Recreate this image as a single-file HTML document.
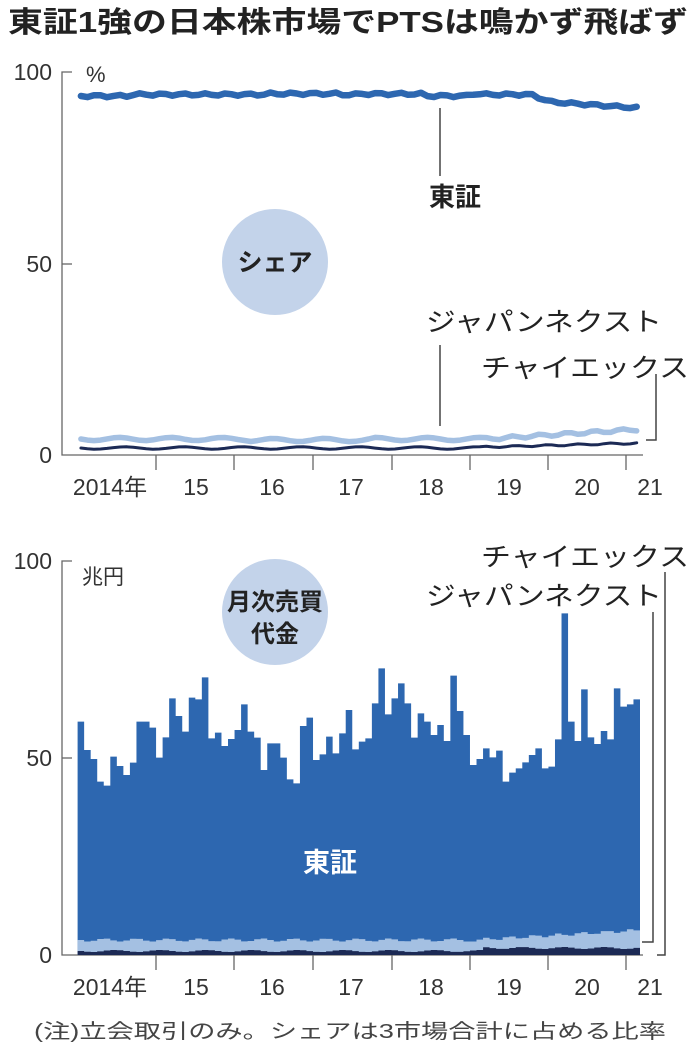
<!DOCTYPE html><html><head><meta charset="utf-8"><style>
html,body{margin:0;padding:0;background:#fff;}
svg{display:block;font-family:"Liberation Sans","Noto Sans CJK JP",sans-serif;}
</style></head><body>
<svg id="s" width="696" height="1054" viewBox="0 0 696 1054" xmlns="http://www.w3.org/2000/svg">
<text x="8" y="32" font-size="29" font-weight="bold" fill="#222" textLength="680" lengthAdjust="spacingAndGlyphs">東証1強の日本株市場でPTSは鳴かず飛ばず</text>
<g fill="#333" font-size="23" text-anchor="end">
<text x="52" y="80">100</text><text x="52" y="272">50</text><text x="52" y="463">0</text>
<text x="52" y="569">100</text><text x="52" y="766">50</text><text x="52" y="963">0</text>
</g>
<text x="86" y="82" font-size="22" fill="#333">%</text>
<text x="82" y="584" font-size="21" fill="#333">兆円</text>
<g stroke="#666" stroke-width="1.3" fill="none">
<path d="M72 72H62V455H643"/><path d="M62 264H72"/>
<path d="M72 561H62V955H643"/><path d="M62 758H72"/>
</g>
<g id="ticks" stroke="#666" stroke-width="1.3"></g>
<g fill="#333" font-size="23" text-anchor="middle">
<text x="110" y="495">2014年</text><text x="196" y="495">15</text><text x="272" y="495">16</text><text x="351" y="495">17</text><text x="431" y="495">18</text><text x="509" y="495">19</text><text x="587" y="495">20</text><text x="650" y="495">21</text>
<text x="110" y="995">2014年</text><text x="196" y="995">15</text><text x="272" y="995">16</text><text x="351" y="995">17</text><text x="431" y="995">18</text><text x="509" y="995">19</text><text x="587" y="995">20</text><text x="650" y="995">21</text>
</g>
<circle cx="275" cy="262" r="53" fill="#c3d3ea"/>
<text x="275" y="271" font-size="25" font-weight="bold" fill="#222" text-anchor="middle">シェア</text>
<g id="bars"></g>
<circle cx="275" cy="612" r="53" fill="#c3d3ea"/>
<text x="275" y="610" font-size="24" font-weight="bold" fill="#222" text-anchor="middle">月次売買</text>
<text x="275" y="642" font-size="24" font-weight="bold" fill="#222" text-anchor="middle">代金</text>
<text x="330" y="872" font-size="27" font-weight="bold" fill="#fff" text-anchor="middle">東証</text>
<g id="lines" fill="none" stroke-linejoin="round" stroke-linecap="round"></g>
<g stroke="#444" stroke-width="1.5" fill="none">
<path d="M440 108V176"/><path d="M440 345V426"/><path d="M656 374V440H646"/>
<path d="M653 612V942H642"/><path d="M665 572V955H657"/>
</g>
<text x="455" y="206" font-size="26" font-weight="bold" fill="#222" text-anchor="middle">東証</text>
<g font-size="26" fill="#222">
<text x="426" y="331" textLength="236" lengthAdjust="spacingAndGlyphs">ジャパンネクスト</text>
<text x="481" y="377" textLength="208" lengthAdjust="spacingAndGlyphs">チャイエックス</text>
<text x="481" y="566" textLength="208" lengthAdjust="spacingAndGlyphs">チャイエックス</text>
<text x="426" y="605" textLength="236" lengthAdjust="spacingAndGlyphs">ジャパンネクスト</text>
</g>
<text x="34" y="1038" font-size="20" fill="#444" textLength="632" lengthAdjust="spacingAndGlyphs">(注)立会取引のみ。シェアは3市場合計に占める比率</text>
</svg>
<script>
var NS="http://www.w3.org/2000/svg";
function el(p,t,a){var e=document.createElementNS(NS,t);for(var k in a)e.setAttribute(k,a[k]);p.appendChild(e);return e;}
var tk=document.getElementById("ticks");
[156,234,313,392,470,548,626].forEach(function(x){el(tk,"path",{d:"M"+x+" 455V470"});el(tk,"path",{d:"M"+x+" 955V970"});});
var zt=[185,270,297,365,377,290,318,345,308,185,185,203,293,232,115,168,215,113,118,52,235,218,258,237,210,133,215,233,330,250,250,293,358,370,198,173,300,283,230,280,220,150,268,245,235,130,25,163,115,70,130,233,160,185,225,195,243,47,153,225,315,297,265,292,272,365,338,325,307,285,265,325,320,238,-140,185,243,88,232,252,213,238,85,140,133,118];
var n=zt.length,x0=77.6,w=(640-77.6)/n;
var b=document.getElementById("bars");
var lb=[],dk=[];
for(var i=0;i<n;i++){var l=(i<60?940+Math.sin(i*1.3)*1.5:940-(i-60)/26*10+Math.sin(i*1.7)*1.5);lb.push(l);dk.push(i<62?951+Math.sin(i*0.9):948+Math.sin(i));}
var p1="",p2="",p3="";
for(var i=0;i<n;i++){var xa=x0+i*w,xb=xa+w,y=660+zt[i]/3;p1+=(i?"L":"M")+xa+" "+y+"H"+xb;p2+=(i?"L":"M")+xa+" "+lb[i]+"H"+xb;p3+=(i?"L":"M")+xa+" "+dk[i]+"H"+xb;}
el(b,"path",{d:p1+"V955H"+x0+"Z",fill:"#2d67b0"});
el(b,"path",{d:p2+"V955H"+x0+"Z",fill:"#a4c0e2"});
el(b,"path",{d:p3+"V955H"+x0+"Z",fill:"#1c2a55"});
var L=document.getElementById("lines");
function line(f,c,sw){var d="";for(var i=0;i<n;i++){d+=(i?"L":"M")+(x0+i*w+w/2).toFixed(1)+" "+f(i).toFixed(1);}el(L,"path",{d:d,stroke:c,"stroke-width":sw});}
line(function(i){var base;
 if(i<69){base=94.5+(i<8?1.5:0)-(i>28&&i<40?0.8:0)-(i>42&&i<62?0.6:0)+(i>52&&i<60?2:0);}
 else if(i<72){base=95+(i-69)*2.5;}
 else base=102+(i-72)*0.45;
 return base+Math.sin(i*1.9)*1.2;},"#2d67b0",6.5);
line(function(i){return (i<62?439+Math.sin(i*0.8)*1.6+(i>25&&i<45?1:0):439-(i-62)/24*10+Math.sin(i*1.5)*1.5);},"#a4c0e2",5.5);
line(function(i){return (i<62?448+Math.sin(i*0.7)*1.2:447-(i-62)/24*4+Math.sin(i*1.3)*0.8);},"#1c2a55",3);
</script>
</body></html>
